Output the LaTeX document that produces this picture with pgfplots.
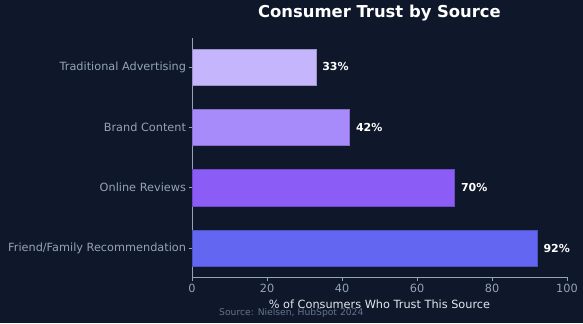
\documentclass[border=0pt]{standalone}
\usepackage{pgfplots}
\pgfplotsset{compat=1.18}
\usepackage{fontspec}
\setmainfont{DejaVu Sans}
\definecolor{bg}{HTML}{0F172A}
\definecolor{ticklab}{HTML}{94A3B8}
\definecolor{spine}{HTML}{94A3B8}
\definecolor{xlab}{HTML}{E2E8F0}
\definecolor{src}{HTML}{64748B}
\definecolor{cA}{HTML}{6366F1}
\definecolor{cB}{HTML}{8B5CF6}
\definecolor{cC}{HTML}{A78BFA}
\definecolor{cD}{HTML}{C4B5FD}
\begin{document}
\begin{tikzpicture}[x=1bp,y=1bp]
\fill[bg] (0,0) rectangle (583,323);
\useasboundingbox (0,0) rectangle (583,323);
\begin{axis}[
  at={(192bp,46bp)}, anchor=south west,
  scale only axis, width=375bp, height=239bp,
  xbar, bar shift=0pt, bar width=0.6,
  xmin=0, xmax=100, ymin=-0.48, ymax=3.48,
  ytick={0,1,2,3},
  yticklabels={Friend/Family Recommendation,Online Reviews,Brand Content,Traditional Advertising},
  xtick={0,20,40,60,80,100},
  axis x line*=bottom, axis y line*=left,
  axis line style={spine, line width=0.8bp},
  tick style={spine, line width=0.8bp},
  tick align=outside, major tick length=3.5bp,
  tick label style={font=\fontsize{11.3bp}{13bp}\selectfont, text=ticklab},
  yticklabel style={xshift=1bp},
  /pgf/number format/assume math mode=true,
  xlabel={\% of Consumers Who Trust This Source},
  xlabel style={font=\fontsize{11.3bp}{13bp}\selectfont, text=xlab, at={(axis description cs:0.5,0)}, anchor=center, yshift=-27bp},
  nodes near coords={\pgfmathprintnumber{\pgfplotspointmeta}\%},
  point meta=x,
  nodes near coords style={font=\bfseries\fontsize{11bp}{13bp}\selectfont, text=white, anchor=west, xshift=3bp},
]
\addplot[fill=cA, draw=cA!80!black] coordinates {(92,0)};
\addplot[fill=cB, draw=cB!80!black] coordinates {(70,1)};
\addplot[fill=cC, draw=cC!80!black] coordinates {(42,2)};
\addplot[fill=cD, draw=cD!80!black] coordinates {(33,3)};
\end{axis}
\node[font=\bfseries\fontsize{16.4bp}{19bp}\selectfont, text=white] at (379.5,310) {Consumer Trust by Source};
\node[font=\fontsize{9.2bp}{11bp}\selectfont, text=src, anchor=west, inner sep=0pt] at (219,10) {Source: Nielsen, HubSpot 2024};
\end{tikzpicture}
\end{document}
